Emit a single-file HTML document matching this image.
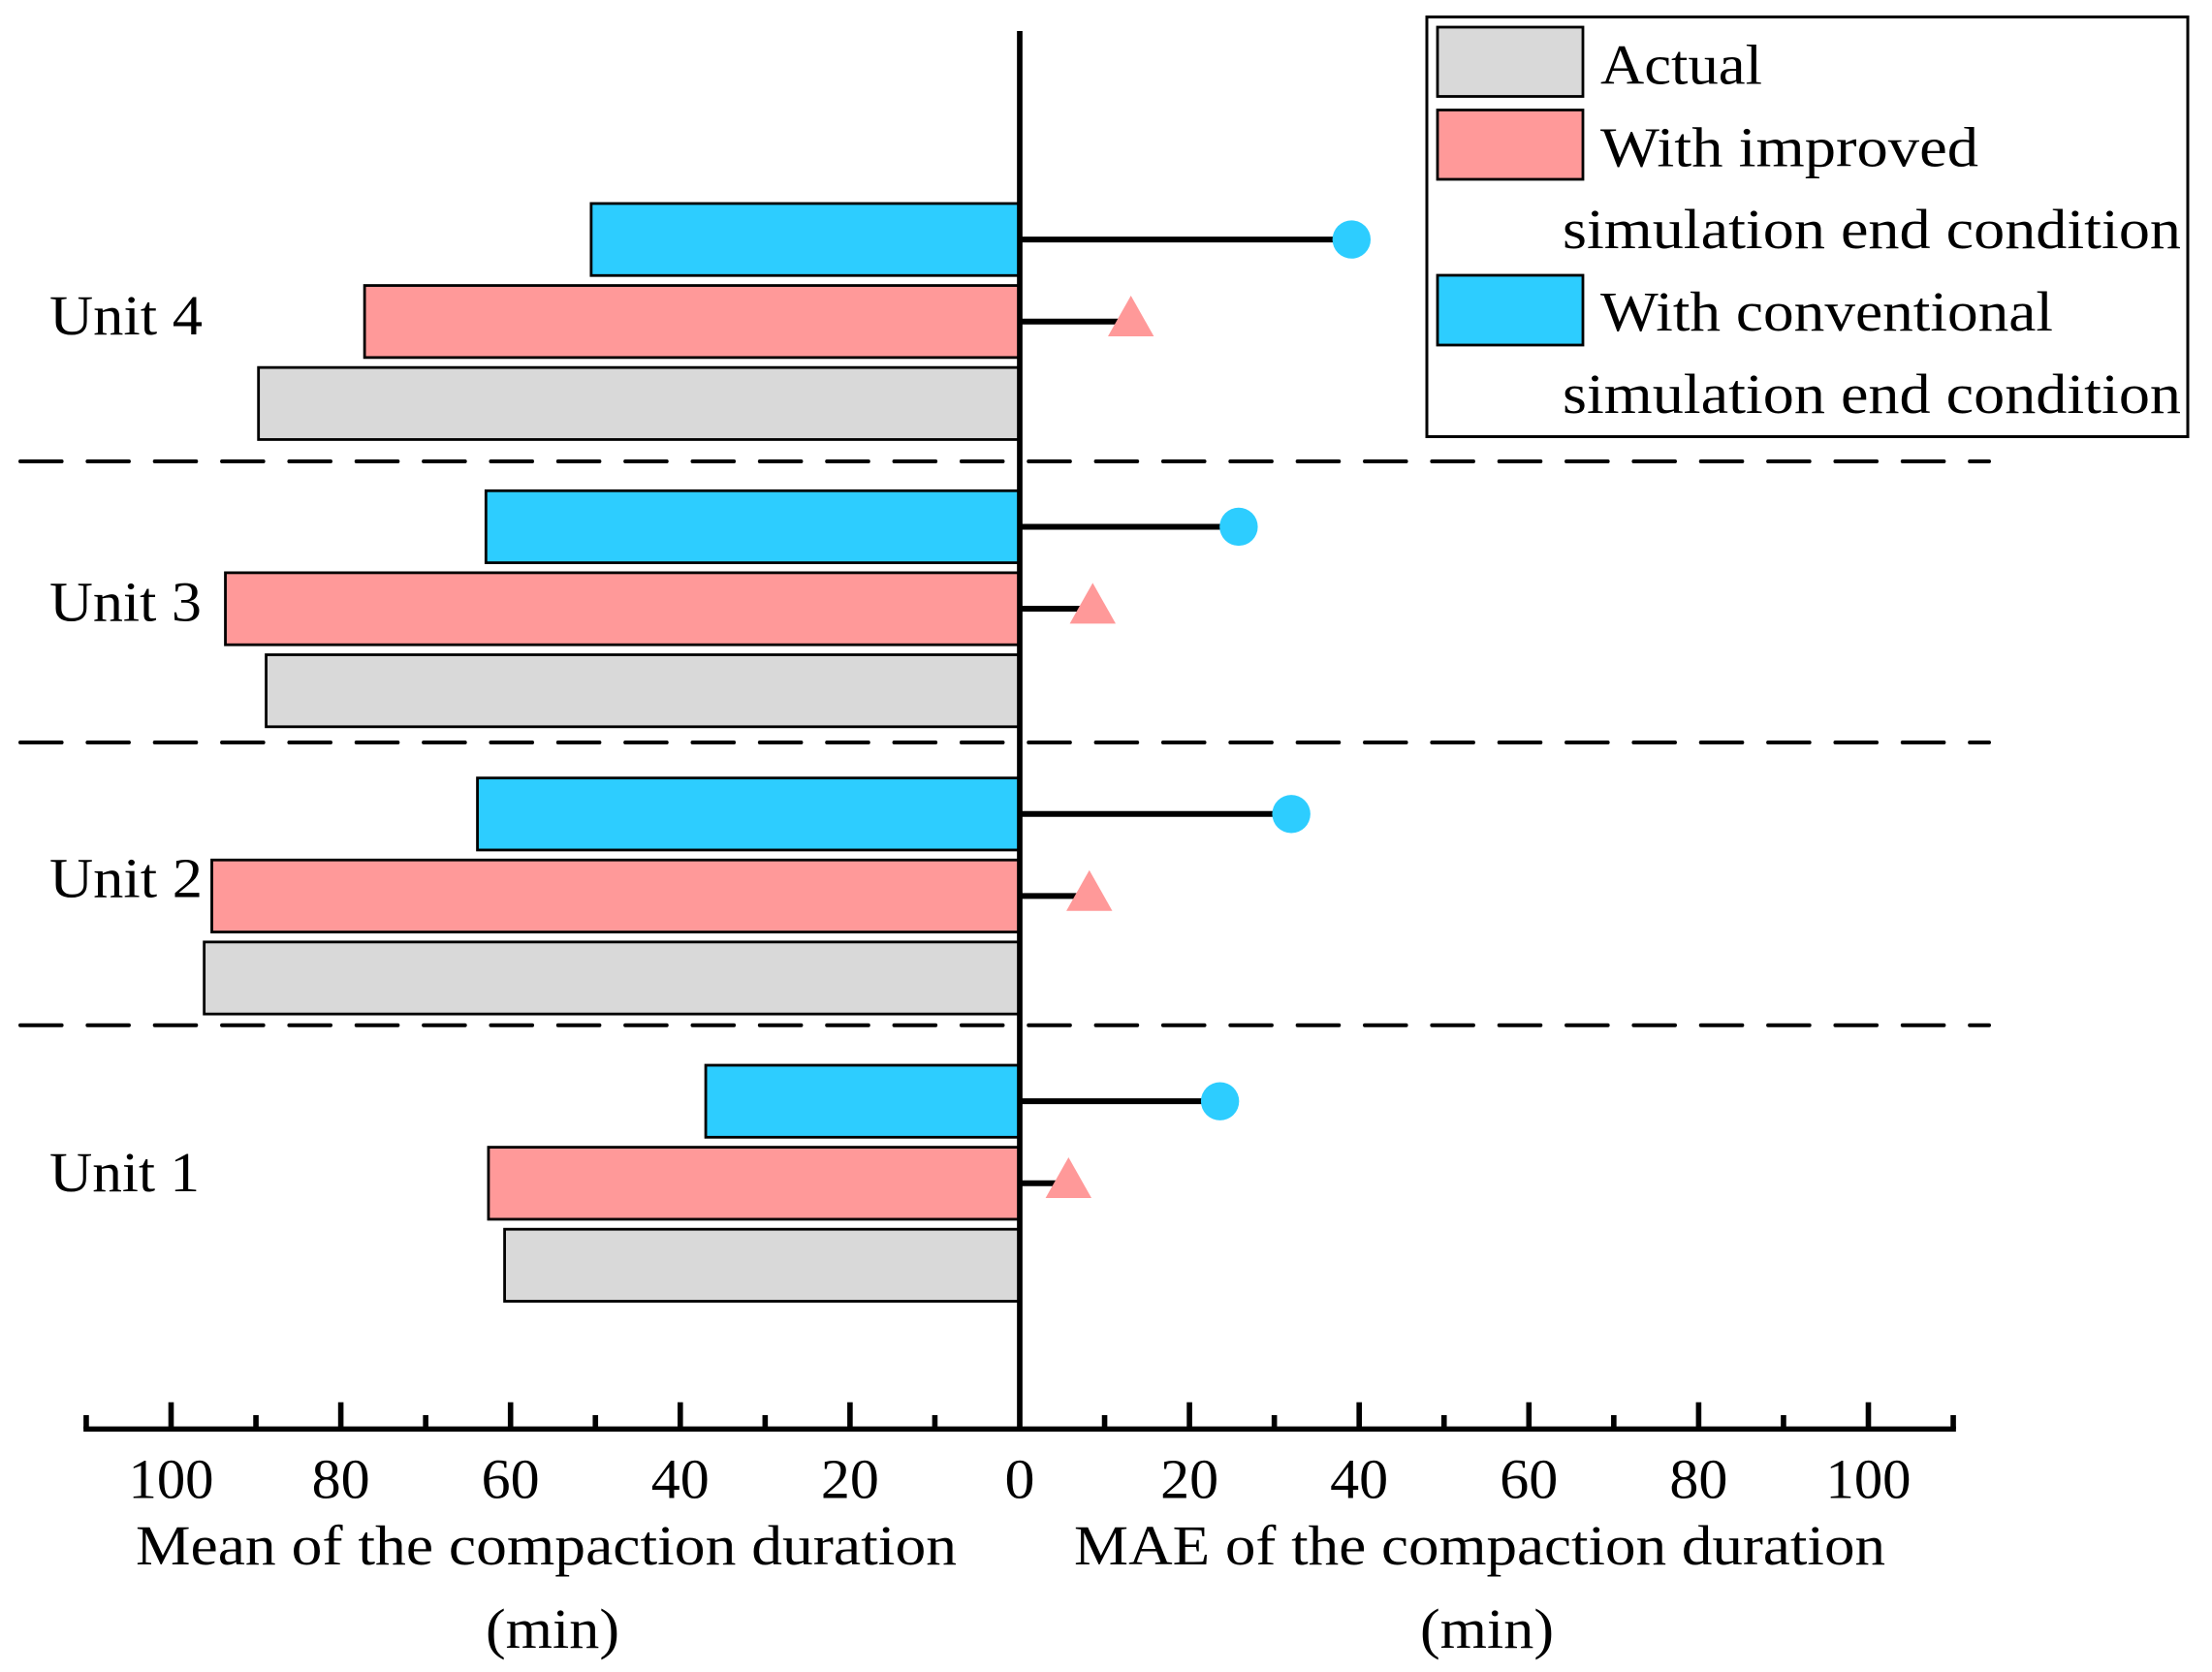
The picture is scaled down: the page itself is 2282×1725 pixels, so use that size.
<!DOCTYPE html>
<html lang="en">
<head>
<meta charset="utf-8">
<title>Compaction duration by unit</title>
<style>
html,body{margin:0;padding:0;background:#fff;width:2282px;height:1725px;overflow:hidden}
svg{display:block}
text{font-family:"Liberation Serif",serif;font-size:58px;fill:#000}
</style>
</head>
<body>
<svg id="chart" xmlns="http://www.w3.org/2000/svg" width="2282" height="1725" viewBox="0 0 2282 1725">
  <rect x="0" y="0" width="2282" height="1725" fill="#fff"/>
  <g id="separators">
    <line x1="21" x2="2052" y1="476" y2="476" stroke="#000" stroke-width="4" stroke-dasharray="42.6 26.75" stroke-linecap="round"/>
    <line x1="21" x2="2052" y1="766" y2="766" stroke="#000" stroke-width="4" stroke-dasharray="42.6 26.75" stroke-linecap="round"/>
    <line x1="21" x2="2052" y1="1057.7" y2="1057.7" stroke="#000" stroke-width="4" stroke-dasharray="42.6 26.75" stroke-linecap="round"/>
  </g>
  <g id="bars"></g>
  <g id="lollipops"></g>
  <g id="axes"></g>
  <g>
    <text x="51" y="345" textLength="158" lengthAdjust="spacingAndGlyphs">Unit 4</text>
    <text x="51" y="640.5" textLength="157" lengthAdjust="spacingAndGlyphs">Unit 3</text>
    <text x="51" y="925.7" textLength="158" lengthAdjust="spacingAndGlyphs">Unit 2</text>
    <text x="51" y="1229" textLength="155" lengthAdjust="spacingAndGlyphs">Unit 1</text>
  </g>
  <text x="140" y="1614" textLength="847" lengthAdjust="spacingAndGlyphs">Mean of the compaction duration</text>
  <text x="501" y="1700" textLength="138" lengthAdjust="spacingAndGlyphs">(min)</text>
  <text x="1108" y="1614" textLength="837" lengthAdjust="spacingAndGlyphs">MAE of the compaction duration</text>
  <text x="1465" y="1700" textLength="138" lengthAdjust="spacingAndGlyphs">(min)</text>
  <g>
    <rect x="1472" y="17.5" width="785" height="433" fill="#fff" stroke="#000" stroke-width="3"/>
    <rect x="1483" y="28" width="150" height="71.5" fill="#D9D9D9" stroke="#000" stroke-width="2.8"/>
    <rect x="1483" y="113.5" width="150" height="71.5" fill="#FF9999" stroke="#000" stroke-width="2.8"/>
    <rect x="1483" y="284" width="150" height="72" fill="#2DCDFF" stroke="#000" stroke-width="2.8"/>
    <text x="1651" y="86.5" textLength="167" lengthAdjust="spacingAndGlyphs">Actual</text>
    <text x="1651" y="171.5" textLength="390" lengthAdjust="spacingAndGlyphs">With improved</text>
    <text x="1612" y="256" textLength="638" lengthAdjust="spacingAndGlyphs">simulation end condition</text>
    <text x="1651" y="341" textLength="467" lengthAdjust="spacingAndGlyphs">With conventional</text>
    <text x="1612" y="426" textLength="638" lengthAdjust="spacingAndGlyphs">simulation end condition</text>
  </g>
</svg>
<script>
// Data: index 0 = Unit 1 ... index 3 = Unit 4
const units = ['Unit 1', 'Unit 2', 'Unit 3', 'Unit 4'];
const meanActual = [60.7, 96.1, 88.8, 89.7];
const meanImproved = [62.6, 95.2, 93.6, 77.2];
const meanConventional = [37.0, 63.9, 62.9, 50.5];
const maeImproved = [5.75, 8.2, 8.6, 13.1];
const maeConventional = [23.6, 32.0, 25.8, 39.1];
const majorTicks = [0, 20, 40, 60, 80, 100];
const minorTicks = [10, 30, 50, 70, 90, 110];
const tickLabels = ['0', '20', '40', '60', '80', '100'];

const NS = 'http://www.w3.org/2000/svg';
const ZERO_X = 1052, PX_PER_MIN = 8.755, AXIS_Y = 1474.3;
const xLeft = v => ZERO_X - v * PX_PER_MIN;
const xRight = v => ZERO_X + v * PX_PER_MIN;
const unitTop = i => 1099 - i * 296.35;
const BAR_H = 74.3, BAR_PITCH = 84.6;

function mk(parent, tag, attrs) {
  const el = document.createElementNS(NS, tag);
  for (const k in attrs) el.setAttribute(k, attrs[k]);
  document.getElementById(parent).appendChild(el);
  return el;
}

function drawBar(i, v, slot, fill, key) {
  const x = xLeft(v);
  const el = mk('bars', 'rect', { x: x, y: unitTop(i) + slot * BAR_PITCH, width: ZERO_X - x, height: BAR_H, fill: fill, stroke: '#000', 'stroke-width': 2.8 });
  
  
}

units.forEach((u, i) => {
  drawBar(i, meanConventional[i], 0, '#2DCDFF', 'conventional');
  drawBar(i, meanImproved[i], 1, '#FF9999', 'improved');
  drawBar(i, meanActual[i], 2, '#D9D9D9', 'actual');

  const yBlue = unitTop(i) + BAR_H / 2;
  const yPink = unitTop(i) + BAR_PITCH + BAR_H / 2;

  const stemBlue = mk('lollipops', 'line', { x1: ZERO_X, x2: xRight(maeConventional[i]), y1: yBlue, y2: yBlue, stroke: '#000', 'stroke-width': 6 });
  
  

  const dot = mk('lollipops', 'circle', { cx: xRight(maeConventional[i]), cy: yBlue, r: 19.7, fill: '#2DCDFF' });
  
  

  const stemPink = mk('lollipops', 'line', { x1: ZERO_X, x2: xRight(maeImproved[i]), y1: yPink, y2: yPink, stroke: '#000', 'stroke-width': 6 });
  
  

  const tx = xRight(maeImproved[i]);
  const tri = mk('lollipops', 'polygon', { points: tx + ',' + (yPink - 26.7) + ' ' + (tx + 23.7) + ',' + (yPink + 15.3) + ' ' + (tx - 23.7) + ',' + (yPink + 15.3), fill: '#FF9999' });
  
  
});

// Axes
const vAxis = mk('axes', 'line', { x1: ZERO_X, x2: ZERO_X, y1: 32, y2: AXIS_Y, stroke: '#000', 'stroke-width': 5.7 });



const hAxis = mk('axes', 'line', { x1: xLeft(110) - 2.8, x2: xRight(110) + 2.8, y1: AXIS_Y, y2: AXIS_Y, stroke: '#000', 'stroke-width': 5.4 });



function drawTick(x, top, key) {
  const t = mk('axes', 'line', { x1: x, x2: x, y1: top, y2: AXIS_Y, stroke: '#000', 'stroke-width': 5.6 });
  
  
}

minorTicks.forEach(v => {
  drawTick(xLeft(v), 1460, 'minor-tick-left-' + v);
  drawTick(xRight(v), 1460, 'minor-tick-right-' + v);
});

majorTicks.forEach((v, idx) => {
  if (v !== 0) {
    drawTick(xLeft(v), 1446.7, 'major-tick-left-' + v);
    drawTick(xRight(v), 1446.7, 'major-tick-right-' + v);
  }
  const len = tickLabels[idx].length === 3 ? 88 : tickLabels[idx].length === 2 ? 60 : 31;
  const sides = v === 0 ? [ZERO_X] : [xLeft(v), xRight(v)];
  sides.forEach((x, s) => {
    const lab = mk('axes', 'text', { x: x - len / 2, y: 1545.7, textLength: len, lengthAdjust: 'spacingAndGlyphs' });
    lab.textContent = tickLabels[idx];
    
    
  });
});
</script>
</body>
</html>
